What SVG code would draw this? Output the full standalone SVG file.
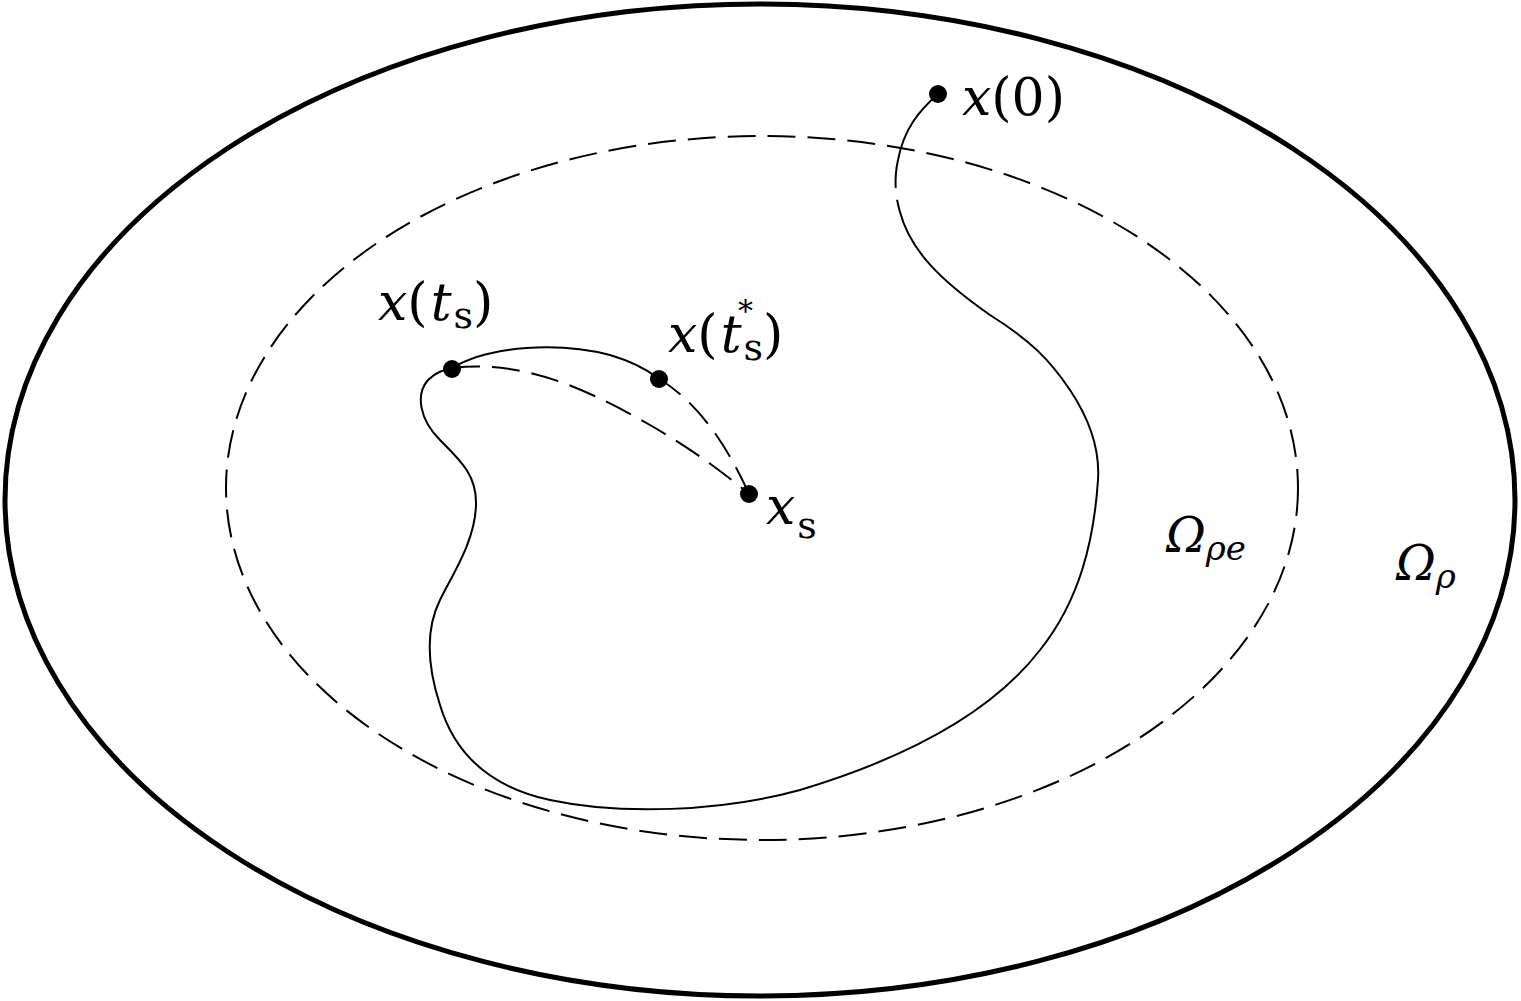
<svg xmlns="http://www.w3.org/2000/svg" width="1521" height="1001" viewBox="0 0 1521 1001">
<style>
.i{font-style:italic}
.s{stroke:#000;fill:none;stroke-width:2}
.d{stroke:#000;fill:none;stroke-width:2;stroke-dasharray:28 12}
</style>
<rect width="1521" height="1001" fill="#fff"/>
<g id="outer"><ellipse cx="760" cy="500" rx="755" ry="496" fill="none" stroke="#000" stroke-width="5"/></g>
<g id="inner"><ellipse cx="762" cy="488" rx="536" ry="352" class="d"/></g>
<g id="connectors">
<path class="s" d="M938,94 C920,110 904,128 898,160"/>
<path class="d" stroke-dasharray="22 12" d="M898,160 C894,178 895,195 900,212"/>
<path class="s" d="M900,212 C910,250 940,280 990,315 C1030,340 1050,360 1070,390 C1090,420 1100,450 1098,480 C1094,540 1080,600 1040,650 C990,715 900,760 800,790 C720,812 620,815 550,800 C490,787 455,755 440,705 C428,668 425,630 440,600 C455,570 475,540 476,505 C477,475 460,460 440,440 C420,420 415,395 428,380 C436,372 444,370 452,368"/>
<path class="s" d="M452,368 C490,345 560,342 610,355 C630,361 645,368 658,378"/>
<path class="d" stroke-dasharray="22 14" d="M658,378 C690,398 720,430 749,494"/>
<path class="d" stroke-dasharray="30 16" d="M452,368 C520,360 580,385 650,425 C690,448 720,470 749,494"/>
</g>
<g font-family="DejaVu Serif, Liberation Serif, serif" fill="#000">
<g id="x0"><circle cx="938" cy="94" r="9"/><text x="962" y="115" font-size="52"><tspan class="i">x</tspan>(0)</text></g>
<g id="xts"><circle cx="452" cy="369" r="9"/><text x="378" y="320" font-size="52"><tspan class="i">x</tspan>(<tspan class="i" dx="3">t</tspan><tspan font-size="38" dx="2" dy="8">s</tspan><tspan dy="-8">)</tspan></text></g>
<g id="xtstar"><circle cx="659" cy="379" r="9"/><text x="668" y="352" font-size="52"><tspan class="i">x</tspan>(<tspan class="i" dx="3">t</tspan><tspan font-size="38" dx="2" dy="8">s</tspan><tspan dy="-8">)</tspan></text><text x="738" y="321" font-size="30">*</text></g>
<g id="xs"><circle cx="749" cy="494" r="9"/><text x="766" y="524" font-size="52"><tspan class="i">x</tspan><tspan font-size="38" dx="2" dy="14">s</tspan></text></g>
<g id="omega_e"><text x="1166" y="552" font-size="48"><tspan class="i">Ω</tspan><tspan class="i" font-size="34" dy="8">ρe</tspan></text></g>
<g id="omega"><text x="1396" y="580" font-size="48"><tspan class="i">Ω</tspan><tspan class="i" font-size="34" dy="8">ρ</tspan></text></g>
</g>
</svg>
